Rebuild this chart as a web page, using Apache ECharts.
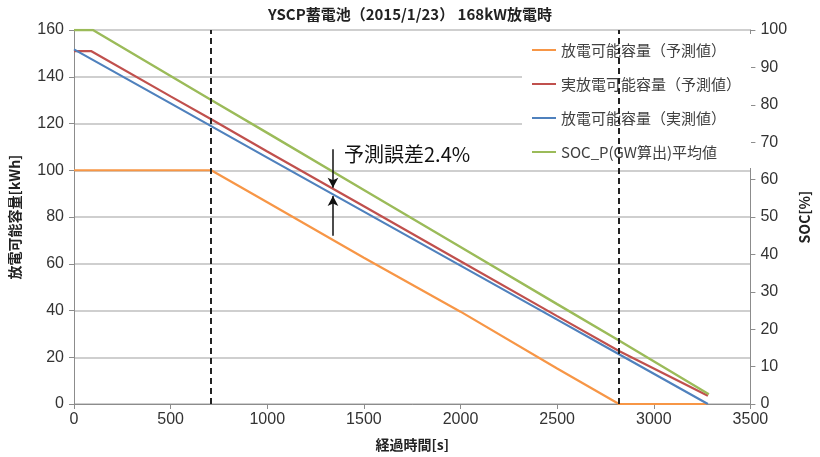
<!DOCTYPE html>
<html>
<head>
<meta charset="utf-8">
<script src="https://cdn.jsdelivr.net/npm/echarts@6/dist/echarts.min.js"></script>
<style>
  html, body { margin: 0; padding: 0; background: #fff; }
  #main { width: 820px; height: 457px; }
</style>
</head>
<body>
<div id="main"></div>
<script>
// 放電可能容量(予測値)
var predTime = [0, 710, 1000, 1500, 2000, 2500, 2820, 3280];
var predCap = [100, 100, 86.3, 62.6, 39.5, 15.2, 0, 0];
// 実放電可能容量(予測値)
var realPredTime = [0, 88, 500, 710, 1000, 1340, 1500, 2000, 2500, 2820, 3280];
var realPredCap = [151, 151, 131.6, 121.8, 108, 92.1, 84.6, 61.1, 37.6, 22.7, 3.5];
// 放電可能容量(実測値)
var measTime = [0, 500, 1000, 1500, 2000, 2500, 2820, 3280];
var measCap = [151.7, 128.6, 105.4, 82.3, 59.2, 36.1, 21.3, 0];
// SOC_P(GW算出)平均値
var socTime = [0, 98, 500, 710, 1000, 1500, 2000, 2500, 2820, 3285];
var socVal = [100, 100, 87.7, 81.3, 72.5, 57.2, 42.0, 26.7, 17.0, 2.6];

var markTimes = [710, 2820];
var legendNames = ['放電可能容量（予測値）', '実放電可能容量（予測値）', '放電可能容量（実測値）', 'SOC_P(GW算出)平均値'];

function pairs(xs, ys) {
    var out = [];
    for (var i = 0; i < xs.length; i++) out.push([xs[i], ys[i]]);
    return out;
}

function plain(v) {
    return String(v);
}

var jp = '"Noto Sans CJK JP", sans-serif';
var num = '"Liberation Sans Narrow", "Liberation Sans", sans-serif';
var gridColor = '#bfbfbf';
var axisColor = '#8c8c8c';

var chart = echarts.init(document.getElementById('main'));

var option = {
    animation: false,
    backgroundColor: '#fff',
    title: {
        text: 'YSCP蓄電池（2015/1/23） 168kW放電時',
        left: 'center',
        top: 2,
        textStyle: { fontFamily: jp, fontSize: 15, fontWeight: 'bold', color: '#222' }
    },
    legend: {
        orient: 'vertical',
        left: 522,
        top: 34,
        padding: [6, 10],
        backgroundColor: '#fff',
        itemGap: 14,
        itemWidth: 24,
        itemHeight: 2,
        icon: 'rect',
        data: legendNames,
        textStyle: { fontFamily: jp, fontSize: 15, color: '#404040', lineHeight: 20 }
    },
    grid: { left: 73, right: 68, top: 30, bottom: 52 },
    xAxis: {
        type: 'value',
        min: 0, max: 3500, interval: 500,
        name: '経過時間[s]',
        nameLocation: 'middle',
        nameGap: 34,
        nameTextStyle: { fontFamily: jp, fontSize: 14, fontWeight: 'bold', color: '#222' },
        axisLine: { lineStyle: { color: axisColor } },
        axisTick: { show: true, length: 5, lineStyle: { color: axisColor } },
        axisLabel: { fontFamily: num, fontSize: 16, color: '#333', margin: 8, formatter: plain },
        splitLine: { show: false }
    },
    yAxis: [{
        type: 'value',
        min: 0, max: 160, interval: 20,
        name: '放電可能容量[kWh]',
        nameLocation: 'middle',
        nameRotate: 90,
        nameGap: 52,
        nameTextStyle: { fontFamily: jp, fontSize: 14, fontWeight: 'bold', color: '#222' },
        axisLine: { show: true, lineStyle: { color: axisColor } },
        axisTick: { show: true, length: 5, lineStyle: { color: axisColor } },
        axisLabel: { fontFamily: num, fontSize: 16, color: '#333', margin: 10, formatter: plain },
        splitLine: { show: true, lineStyle: { color: gridColor, width: 1.5 } }
    }, {
        type: 'value',
        position: 'right',
        min: 0, max: 100, interval: 10,
        name: 'SOC[%]',
        nameLocation: 'middle',
        nameRotate: 90,
        nameGap: 46,
        nameTextStyle: { fontFamily: jp, fontSize: 14, fontWeight: 'bold', color: '#222' },
        axisLine: { show: true, lineStyle: { color: axisColor } },
        axisTick: { show: true, length: 5, lineStyle: { color: axisColor } },
        axisLabel: { fontFamily: num, fontSize: 16, color: '#333', margin: 10, formatter: plain },
        splitLine: { show: false }
    }],
    graphic: [{
        type: 'text',
        left: 344,
        top: 144,
        style: { text: '予測誤差2.4%', font: '20px "Noto Sans CJK JP"', fill: '#111' }
    }],
    series: [{
        name: legendNames[0],
        type: 'line',
        symbol: 'none',
        data: pairs(predTime, predCap),
        lineStyle: { color: '#F79646', width: 2.2 },
        itemStyle: { color: '#F79646' },
        markLine: {
            silent: true,
            symbol: 'none',
            label: { show: false },
            lineStyle: { color: '#222', type: [6, 4], width: 2 },
            data: markTimes.map(function (t) { return { xAxis: t }; })
        }
    }, {
        name: legendNames[1],
        type: 'line',
        symbol: 'none',
        data: pairs(realPredTime, realPredCap),
        lineStyle: { color: '#C0504D', width: 2.2 },
        itemStyle: { color: '#C0504D' }
    }, {
        name: legendNames[2],
        type: 'line',
        symbol: 'none',
        data: pairs(measTime, measCap),
        lineStyle: { color: '#4F81BD', width: 2.2 },
        itemStyle: { color: '#4F81BD' },
        markLine: {
            silent: true,
            label: { show: false },
            symbolSize: [8, 10],
            lineStyle: { color: '#111', type: 'solid', width: 1.5 },
            data: [
                [{ coord: [1340, 109], symbol: 'none' }, { coord: [1340, 92.5], symbol: 'arrow' }],
                [{ coord: [1340, 72], symbol: 'none' }, { coord: [1340, 89], symbol: 'arrow' }]
            ]
        }
    }, {
        name: legendNames[3],
        type: 'line',
        yAxisIndex: 1,
        symbol: 'none',
        data: pairs(socTime, socVal),
        lineStyle: { color: '#9BBB59', width: 2.4 },
        itemStyle: { color: '#9BBB59' }
    }]
};

chart.setOption(option);
</script>
</body>
</html>
